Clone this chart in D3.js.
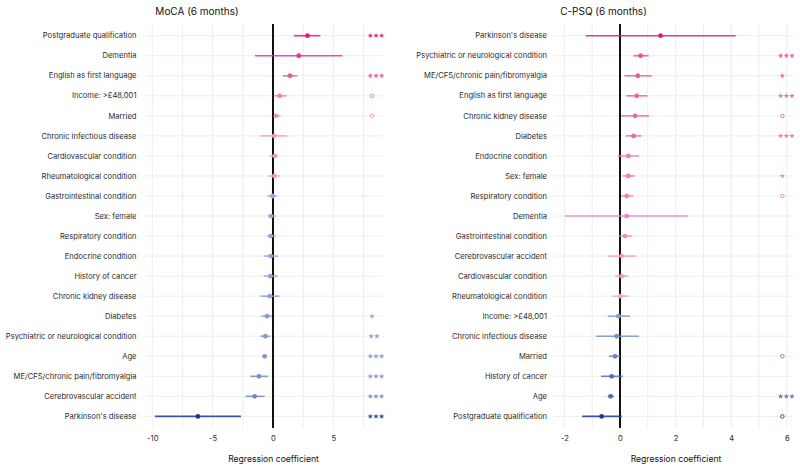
<!DOCTYPE html>
<html>
<head>
<meta charset="utf-8">
<script src="https://cdn.jsdelivr.net/npm/d3@7/dist/d3.min.js"></script>
<style>
  html, body { margin: 0; padding: 0; background: #fff; }
  svg { display: block; font-family: Inter, "Noto Sans", sans-serif; }
</style>
</head>
<body>
<svg id="chart" width="800" height="471"></svg>
<script>
// ---------- DATA ----------
const mocaLabels = ["Postgraduate qualification","Dementia","English as first language","Income: >£48,001","Married","Chronic infectious disease","Cardiovascular condition","Rheumatological condition","Gastrointestinal condition","Sex: female","Respiratory condition","Endocrine condition","History of cancer","Chronic kidney disease","Diabetes","Psychiatric or neurological condition","Age","ME/CFS/chronic pain/fibromyalgia","Cerebrovascular accident","Parkinson's disease"];
const mocaEst = [2.85, 2.13, 1.41, 0.56, 0.25, 0.11, 0.14, 0.12, -0.03, -0.16, -0.19, -0.19, -0.22, -0.27, -0.50, -0.63, -0.69, -1.16, -1.52, -6.22];
const mocaLo  = [1.74, -1.49, 0.83, 0.06, 0.06, -1.02, -0.27, -0.38, -0.47, -0.41, -0.47, -0.77, -0.77, -1.05, -0.95, -1.05, -0.90, -1.88, -2.26, -9.78];
const mocaHi  = [3.93, 5.75, 2.02, 1.11, 0.61, 1.16, 0.41, 0.55, 0.33, 0.22, 0.22, 0.41, 0.36, 0.55, -0.08, -0.22, -0.55, -0.41, -0.69, -2.65];
const mocaSig = ["***","","***","o","o","","","","","","","","","","*","**","***","***","***","***"];
const mocaTicks = [-10, -5, 0, 5];
const mocaGrid = [-10, -7.5, -5, -2.5, 0, 2.5, 5, 7.5];

const cpsqLabels = ["Parkinson's disease","Psychiatric or neurological condition","ME/CFS/chronic pain/fibromyalgia","English as first language","Chronic kidney disease","Diabetes","Endocrine condition","Sex: female","Respiratory condition","Dementia","Gastrointestinal condition","Cerebrovascular accident","Cardiovascular condition","Rheumatological condition","Income: >£48,001","Chronic infectious disease","Married","History of cancer","Age","Postgraduate qualification"];
const cpsqEst = [1.46, 0.74, 0.64, 0.60, 0.54, 0.49, 0.30, 0.30, 0.24, 0.24, 0.18, 0.06, 0.06, 0.02, -0.06, -0.12, -0.18, -0.30, -0.34, -0.66];
const cpsqLo  = [-1.23, 0.48, 0.16, 0.22, 0.04, 0.22, -0.08, 0.10, 0.04, -1.98, -0.02, -0.44, -0.18, -0.26, -0.44, -0.86, -0.40, -0.68, -0.44, -1.36];
const cpsqHi  = [4.16, 1.03, 1.14, 0.99, 1.05, 0.77, 0.69, 0.54, 0.48, 2.46, 0.44, 0.58, 0.30, 0.32, 0.36, 0.68, 0.00, 0.10, -0.22, 0.06];
const cpsqSig = ["","***","*","***","o","***","","*","o","","","","","","","","o","","***","o"];
const cpsqTicks = [-2, 0, 2, 4, 6];
const cpsqGrid = [-2, -1, 0, 1, 2, 3, 4, 5, 6];

// ---------- DRAW ----------
const svg = d3.select("#chart");

function colorFor(v, maxPos, minNeg) {
  if (v >= 0) {
    const t = Math.pow(Math.min(1, v / maxPos), 0.8);
    return d3.interpolateRgb("#f5a6c8", "#e3177a")(t);
  } else {
    const t = Math.pow(Math.min(1, v / minNeg), 0.8);
    return d3.interpolateRgb("#9aabdb", "#1d3a92")(t);
  }
}

function drawPanel(cfg) {
  const g = svg.append("g");
  const x = d3.scaleLinear().domain(cfg.domain).range([cfg.left, cfg.right]);
  const y = d3.scalePoint().domain(cfg.labels).range([35.7, 416.4]);
  const top = 24, bottom = 428;

  g.selectAll(".vg").data(cfg.grid).join("line")
    .attr("x1", d => x(d)).attr("x2", d => x(d))
    .attr("y1", top).attr("y2", bottom)
    .attr("stroke", "#ebebeb").attr("stroke-width", 0.9);
  g.selectAll(".hg").data(cfg.labels).join("line")
    .attr("x1", cfg.left).attr("x2", cfg.right)
    .attr("y1", d => y(d)).attr("y2", d => y(d))
    .attr("stroke", "#ebebeb").attr("stroke-width", 0.9);

  g.selectAll(".yl").data(cfg.labels).join("text")
    .attr("x", cfg.labelX).attr("y", d => y(d)).attr("dy", "0.35em")
    .attr("text-anchor", "end").attr("font-size", 7.6).attr("fill", "#2b2b2b")
    .text(d => d);

  const axis = d3.axisBottom(x).tickValues(cfg.ticks).tickSize(0).tickPadding(0)
    .tickFormat(d => d < 0 ? "-" + Math.abs(d) : d);
  const ax = g.append("g").attr("transform", `translate(0,${bottom + 8})`).call(axis);
  ax.select(".domain").remove();
  ax.selectAll("text").attr("font-size", 7.6).attr("fill", "#2b2b2b").attr("font-family", "Inter, sans-serif");

  g.append("line").attr("x1", x(0)).attr("x2", x(0)).attr("y1", top).attr("y2", bottom)
    .attr("stroke", "#111").attr("stroke-width", 2);

  const maxPos = d3.max(cfg.est), minNeg = d3.min(cfg.est);
  const rows = cfg.labels.map((l, i) => ({ l, e: cfg.est[i], lo: cfg.lo[i], hi: cfg.hi[i], s: cfg.sig[i], c: colorFor(cfg.est[i], maxPos, minNeg) }));

  g.selectAll(".ci").data(rows).join("line")
    .attr("x1", d => x(d.lo)).attr("x2", d => x(d.hi))
    .attr("y1", d => y(d.l)).attr("y2", d => y(d.l))
    .attr("stroke", d => d.c).attr("stroke-width", 1.6).attr("stroke-opacity", 0.85);
  g.selectAll(".pt").data(rows).join("circle")
    .attr("cx", d => x(d.e)).attr("cy", d => y(d.l)).attr("r", 2.4)
    .attr("fill", d => d.c);

  const mx = x(cfg.sigX);
  rows.forEach(d => {
    if (d.s === "o") {
      g.append("circle").attr("cx", mx).attr("cy", y(d.l)).attr("r", 1.8)
        .attr("fill", "none").attr("stroke", d.c).attr("stroke-width", 0.9);
    } else if (d.s.length > 0) {
      const n = d.s.length;
      for (let i = 0; i < n; i++) {
        const px = mx + (i - (n - 1) / 2) * 5.7 + (n - 1) * 2;
        g.append("path").attr("d", d3.symbol(d3.symbolStar, 10)())
          .attr("transform", `translate(${px},${y(d.l)})`)
          .attr("fill", d.c).attr("fill-opacity", 0.9);
      }
    }
  });

  g.append("text").attr("x", cfg.titleX).attr("y", 11).attr("dy", "0.35em")
    .attr("text-anchor", "middle").attr("font-size", 10).attr("fill", "#111")
    .text(cfg.title);
  g.append("text").attr("x", cfg.axisTitleX).attr("y", 459).attr("dy", "0.35em")
    .attr("text-anchor", "middle").attr("font-size", 8.6).attr("fill", "#111")
    .text("Regression coefficient");
}

drawPanel({
  labels: mocaLabels, est: mocaEst, lo: mocaLo, hi: mocaHi, sig: mocaSig,
  ticks: mocaTicks, grid: mocaGrid,
  domain: [-10.6, 9.11], left: 145, right: 383, labelX: 136.5, sigX: 8.2,
  title: "MoCA (6 months)", titleX: 197, axisTitleX: 273.5
});
drawPanel({
  labels: cpsqLabels, est: cpsqEst, lo: cpsqLo, hi: cpsqHi, sig: cpsqSig,
  ticks: cpsqTicks, grid: cpsqGrid,
  domain: [-2.374, 6.223], left: 554, right: 793, labelX: 547, sigX: 5.84,
  title: "C-PSQ (6 months)", titleX: 603.5, axisTitleX: 676
});
</script>
</body>
</html>
